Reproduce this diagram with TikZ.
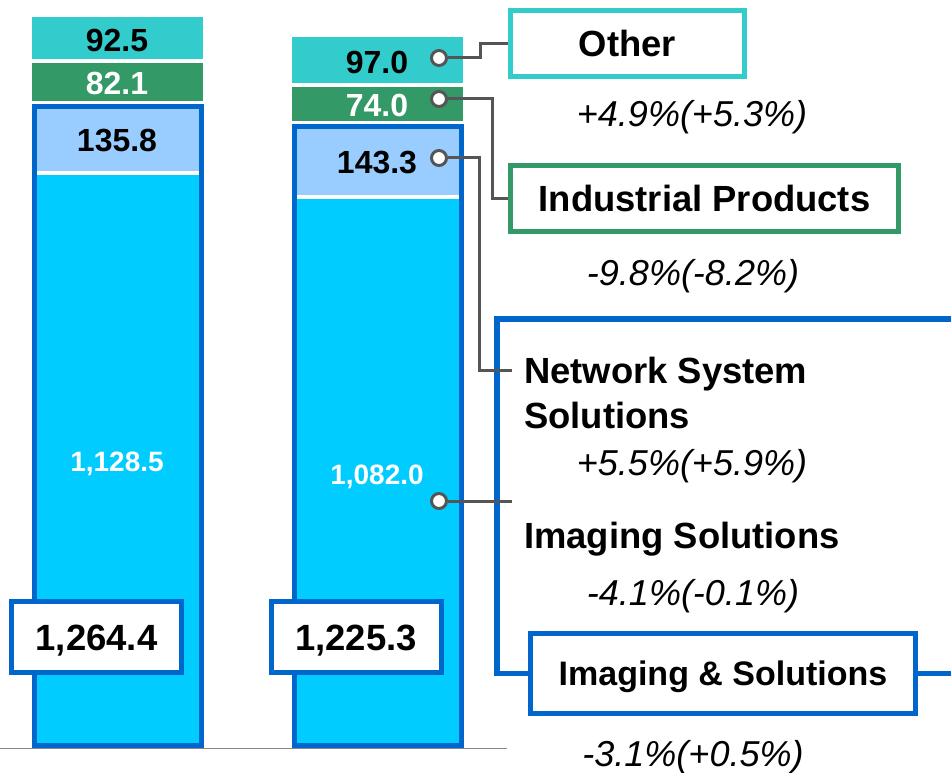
\documentclass[tikz,border=0pt]{standalone}
\usepackage{fontspec}
\setmainfont{Liberation Sans}
\usetikzlibrary{calc}
\definecolor{othercol}{HTML}{33CCCC}
\definecolor{indcol}{HTML}{339966}
\definecolor{framecol}{HTML}{0066CC}
\definecolor{nsscol}{HTML}{99CCFF}
\definecolor{imgcol}{HTML}{00CCFF}
\definecolor{pincol}{HTML}{555555}

\begin{document}
\begin{tikzpicture}[x=1pt, y=-1pt,
	val/.style={anchor=base, inner sep=0pt, font=\fontsize{32}{32}\selectfont\bfseries},
	inval/.style={anchor=base, inner sep=0pt, text=white, font=\fontsize{28}{28}\selectfont\bfseries},
	totbox/.style={draw=framecol, fill=white, line width=5pt, inner sep=0pt, minimum width=170pt, minimum height=71pt, text depth=0pt, text height=26pt, font=\fontsize{36.5}{36.5}\selectfont\bfseries},
	segbox/.style={fill=white, line width=5pt, inner sep=0pt, minimum height=66pt, text depth=0pt, text height=26pt, font=\fontsize{36.4}{36.4}\selectfont\bfseries},
	seglabel/.style={anchor=base west, inner sep=0pt, align=left, font=\fontsize{36.4}{45}\selectfont\bfseries},
	pct/.style={anchor=base, inner sep=0pt, font=\fontsize{36}{36}\selectfont\itshape},
	pin/.style={circle, draw=pincol, fill=white, line width=3pt, minimum size=15pt, inner sep=0pt},
	conn/.style={draw=pincol, line width=3pt}]
	%%%%% START %%%%%
	
	\useasboundingbox (0,0) rectangle (951,773);
	\clip (0,0) rectangle (951,773);
	
	\draw[line width=1.5pt, color=black!47] (0,748.5) -- (507,748.5);
	
	% previous year
	\fill[othercol] (32,17) rectangle (203,59);
	\fill[indcol] (32,63) rectangle (203,101);
	\fill[imgcol] (34.5,106.5) rectangle (201.5,745.5);
	\fill[nsscol] (34.5,106.5) rectangle (201.5,171);
	\fill[white] (34.5,171) rectangle (201.5,175);
	\draw[line width=5pt, color=framecol] (34.5,106.5) rectangle (201.5,745.5);
	
	\node[val] (v925) at (117,51.7) {92.5};
	\node[val, text=white] (v821) at (117,95) {82.1};
	\node[val] (v1358) at (117,151.7) {135.8};
	\node[inval] (v11285) at (117,471.7) {1,128.5};
	
	% this year
	\fill[othercol] (292,37) rectangle (463,83);
	\fill[indcol] (292,87) rectangle (463,121);
	\fill[imgcol] (294.5,126.5) rectangle (461.5,745.5);
	\fill[nsscol] (294.5,126.5) rectangle (461.5,195);
	\fill[white] (294.5,195) rectangle (461.5,199);
	\draw[line width=5pt, color=framecol] (294.5,126.5) rectangle (461.5,745.5);
	
	\node[val] (v970) at (377,73.3) {97.0};
	\node[val, text=white] (v740) at (377,116.7) {74.0};
	\node[val] (v1433) at (377,173.3) {143.3};
	\node[inval] (v10820) at (377,484) {1,082.0};
	
	\node[totbox] (totprev) at (96.5,637) {1,264.4};
	\node[totbox] (totcur) at (356,637) {1,225.3};
	
	% segments
	\node[segbox, draw=othercol, minimum width=234pt] (other) at (627.5,43.5) {Other};
	\node[pct] (pother) at (692,126.7) {+4.9\%(+5.3\%)};
	
	\node[segbox, draw=indcol, minimum width=388pt] (ind) at (704.5,198.5) {Industrial Products};
	\node[pct] (pind) at (693,285) {-9.8\%(-8.2\%)};
	
	\node[segbox, draw=framecol, minimum width=385pt, minimum height=80pt, text height=24pt, font=\fontsize{34}{34}\selectfont\bfseries] (ias) at (723,673.5) {Imaging \& Solutions};
	\draw[line width=5.5pt, color=framecol] (965,319) -- (497,319) |- (ias.west);
	\draw[line width=5.5pt, color=framecol] (ias.east) -- (965,673.5);
	\node[pct] (pias) at (693,766.7) {-3.1\%(+0.5\%)};
	
	\node[seglabel] (nss) at (524,428.3) {Network System\\Solutions};
	\node[pct] (pnss) at (692,475) {+5.5\%(+5.9\%)};
	\node[seglabel] (is) at (524,548.3) {Imaging Solutions};
	\node[pct] (pis) at (693,605) {-4.1\%(-0.1\%)};
	\coordinate (nssend) at (512,370);
	\coordinate (isend) at (512,501);
	
	% connectors
	\node[pin] (p970) at (439,58) {};
	\node[pin] (p740) at (439,99) {};
	\node[pin] (p1433) at (439,158) {};
	\node[pin] (p10820) at (439,501) {};
	
	\draw[conn] (p970) -- (480,58) |- (other.west);
	\draw[conn] (p740) -- (492,99) |- (ind.west);
	\draw[conn] (p1433) -- (479,158) |- (nssend);
	\draw[conn] (p10820) -- (isend);
	
	%%%%% END %%%%%
\end{tikzpicture}
\end{document}
